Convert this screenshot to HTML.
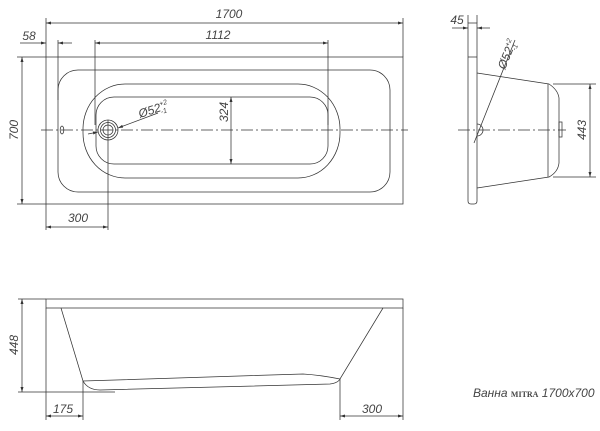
<!DOCTYPE html>
<html><head><meta charset="utf-8"><style>
html,body{margin:0;padding:0;background:#fff;}
svg{display:block;}
text{font-family:"Liberation Sans",sans-serif;font-style:italic;fill:#444;font-size:12px;}
</style></head><body>
<svg width="600" height="431" viewBox="0 0 600 431" xmlns="http://www.w3.org/2000/svg">
<defs>
<marker id="a" viewBox="0 0 10 6" refX="10" refY="3" markerWidth="7" markerHeight="4" orient="auto-start-reverse"><path d="M0,0L10,3L0,6z" fill="#333"/></marker>
</defs>
<g stroke="#333" stroke-width="0.75" fill="none">
<!-- TOP VIEW -->
<rect x="46" y="57" width="357" height="147"/>
<line x1="17" y1="57" x2="46" y2="57"/>
<line x1="17" y1="204" x2="46" y2="204"/>
<line x1="46" y1="18" x2="46" y2="57"/>
<line x1="403" y1="18" x2="403" y2="57"/>
<line x1="46" y1="23" x2="403" y2="23" marker-start="url(#a)" marker-end="url(#a)"/>
<line x1="58" y1="40" x2="58" y2="100"/>
<line x1="20" y1="43" x2="46" y2="43" marker-end="url(#a)"/>
<line x1="72" y1="43" x2="58" y2="43" marker-end="url(#a)"/>
<line x1="95" y1="40" x2="95" y2="125"/>
<line x1="328" y1="40" x2="328" y2="125"/>
<line x1="95" y1="43" x2="328" y2="43" marker-start="url(#a)" marker-end="url(#a)"/>
<line x1="22" y1="57" x2="22" y2="204" marker-start="url(#a)" marker-end="url(#a)"/>
<line x1="41" y1="130" x2="408" y2="130" stroke-dasharray="12,3,2,3"/>
<rect x="58" y="70" width="332" height="122" rx="20" ry="20"/>
<rect x="83" y="84" width="257" height="94" rx="42" ry="45"/>
<rect x="96" y="97" width="232" height="67" rx="18" ry="18"/>
<circle cx="108" cy="130" r="10"/>
<circle cx="108" cy="130" r="7.5"/>
<circle cx="108" cy="130" r="5"/>
<ellipse cx="62" cy="130" rx="1.8" ry="4"/>
<line x1="231" y1="97" x2="231" y2="164" marker-start="url(#a)" marker-end="url(#a)"/>
<line x1="88" y1="134" x2="98" y2="132" marker-end="url(#a)"/>
<line x1="158" y1="113" x2="118" y2="128" marker-end="url(#a)"/>
<line x1="108" y1="120" x2="108" y2="230"/>
<line x1="46" y1="204" x2="46" y2="230"/>
<line x1="46" y1="227" x2="108" y2="227" marker-start="url(#a)" marker-end="url(#a)"/>
<!-- SIDE VIEW -->
<path d="M468,23 L477,23 L477,201 Q477,204 474,204 L471,204 Q468,204 468,201Z"/>
<line x1="468" y1="57" x2="477" y2="57"/>
<line x1="468" y1="15" x2="468" y2="23"/>
<line x1="477" y1="15" x2="477" y2="23"/>
<line x1="452" y1="28" x2="468" y2="28" marker-end="url(#a)"/>
<line x1="490" y1="28" x2="477" y2="28" marker-end="url(#a)"/>
<path d="M477,73 L549,84 Q558,90 559,98 L559,163 Q558,172 549,177 L477,188"/>
<line x1="548" y1="84" x2="548" y2="177"/>
<rect x="559" y="122" width="3" height="15"/>
<line x1="553" y1="84" x2="596" y2="84"/>
<line x1="553" y1="177" x2="596" y2="177"/>
<line x1="590" y1="84" x2="590" y2="177" marker-start="url(#a)" marker-end="url(#a)"/>
<line x1="458" y1="130" x2="566" y2="130" stroke-dasharray="12,3,2,3"/>
<path d="M477,124 A6,6 0 0 1 477,136"/>
<line x1="474" y1="143" x2="515" y2="40"/>
<!-- FRONT VIEW -->
<rect x="46" y="299" width="357" height="9"/>
<line x1="18" y1="299" x2="46" y2="299"/>
<line x1="18" y1="392" x2="115" y2="392"/>
<line x1="22" y1="299" x2="22" y2="392" marker-start="url(#a)" marker-end="url(#a)"/>
<path d="M61,308 L83,381 L303,374 Q320,375 340,379 L383,308"/>
<path d="M83,381 Q88,390 100,390 L330,384 Q338,383 340,379"/>
<line x1="46" y1="308" x2="46" y2="420"/>
<line x1="403" y1="308" x2="403" y2="420"/>
<line x1="83" y1="381" x2="83" y2="420"/>
<line x1="340" y1="379" x2="340" y2="420"/>
<line x1="46" y1="416" x2="83" y2="416" marker-start="url(#a)" marker-end="url(#a)"/>
<line x1="340" y1="416" x2="403" y2="416" marker-start="url(#a)" marker-end="url(#a)"/>
</g>
<text x="229" y="18" text-anchor="middle">1700</text>
<text x="29" y="40" text-anchor="middle">58</text>
<text x="218" y="39" text-anchor="middle">1112</text>
<text transform="translate(18,130) rotate(-90)" text-anchor="middle">700</text>
<text transform="translate(228,112) rotate(-90)" text-anchor="middle">324</text>
<text transform="translate(140,118) rotate(-18)" font-size="11">Ø52<tspan dy="-5" font-size="7">+2</tspan><tspan dx="-9" dy="8" font-size="7">-1</tspan></text>
<text x="78" y="222" text-anchor="middle">300</text>
<text x="457" y="24" text-anchor="middle">45</text>
<text transform="translate(505,70) rotate(-68)" font-size="11">Ø52<tspan dy="-5" font-size="7">+2</tspan><tspan dx="-9" dy="8" font-size="7">-1</tspan></text>
<text transform="translate(586,130) rotate(-90)" text-anchor="middle">443</text>
<text transform="translate(18,345) rotate(-90)" text-anchor="middle">448</text>
<text x="63" y="413" text-anchor="middle">175</text>
<text x="372" y="413" text-anchor="middle">300</text>
<text x="473" y="397" font-size="12">Ванна <tspan font-family="Liberation Serif,serif" font-style="normal" font-weight="bold" font-size="8">MITRA</tspan> 1700x700</text>
</svg>
</body></html>
